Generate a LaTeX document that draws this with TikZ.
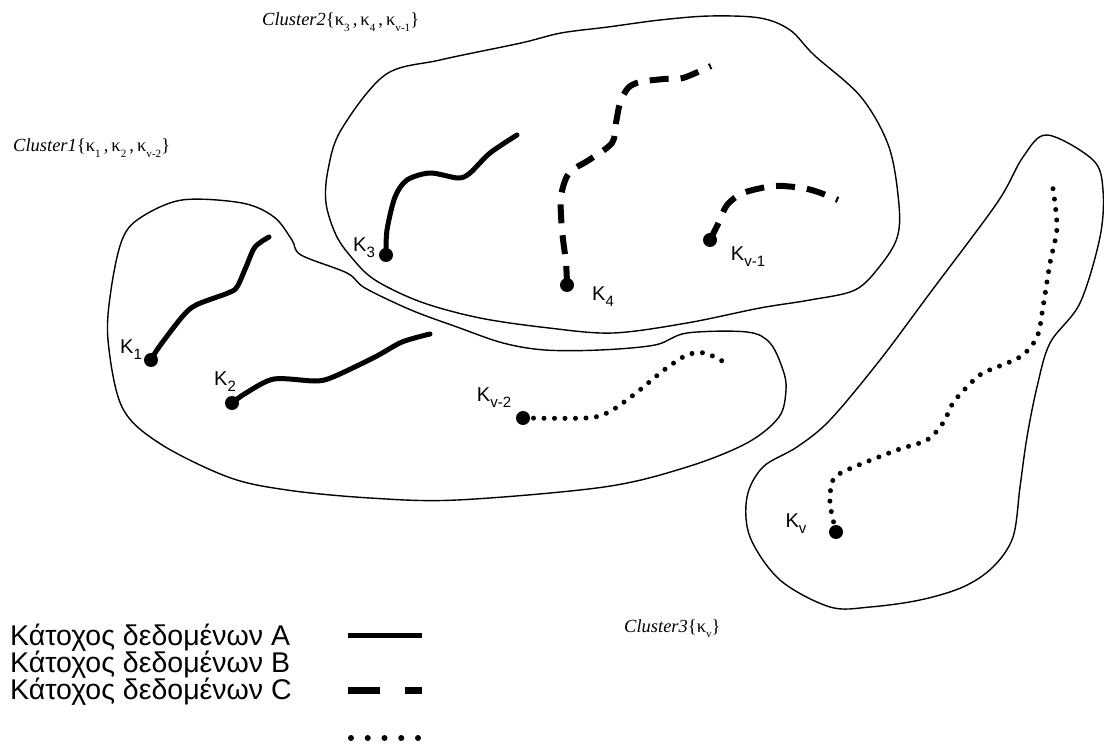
\documentclass[tikz,border=0pt]{standalone}
\usepackage{fontspec}
\setmainfont{Liberation Sans}
\newfontfamily\clusterfont{Liberation Serif}
% lowered, smaller index used after the site letters
\newcommand\lowidx[2][0.75]{\raisebox{-0.3em}{\scalebox{#1}{#2}}}
\begin{document}
\begin{tikzpicture}[x=1pt,y=-1pt,
  outline/.style={line width=1.4pt, line join=round},
  holderA/.style={line width=5pt, line cap=round, line join=round},
  holderB/.style={line width=6pt, dash pattern=on 19pt off 12pt, line join=round},
  holderC/.style={line width=5pt, line cap=round, dash pattern=on 0pt off 10.5pt},
  site/.style={circle, fill=black, inner sep=0pt, minimum size=14pt},
  sitelabel/.style={font=\fontsize{20}{20}\selectfont, inner sep=0pt},
  clusterlabel/.style={font=\clusterfont\fontsize{18.5}{18.5}\selectfont, inner sep=0pt, anchor=base west},
  legendtext/.style={font=\fontsize{28.5}{28.5}\selectfont, inner sep=0pt, anchor=base west}
]
\useasboundingbox (0,0) rectangle (1104,749);

% cluster outlines
\draw[outline] plot[smooth cycle, tension=0.55] coordinates {
  (385,75) (440,60) (521,43) (561,33) (608,27) (660,20) (710,16) (760,18)
  (790,30) (814,55) (861,97) (889,147) (899,205) (897,238) (880,266) (855,290)
  (810,300) (760,308) (687,323) (613,333) (549,328) (480,318) (421,302)
  (375,280) (352,258) (336,235) (326,203) (328,170) (341,130)};
\draw[outline] plot[smooth cycle, tension=0.55] coordinates {
  (182,200) (242,203) (274,217) (292,240) (301,255) (347,273) (365,288)
  (411,310) (457,327) (503,343) (545,350) (600,350) (655,345) (687,333)
  (747,332) (770,343) (783,370) (786,390) (779,417) (747,443) (687,467)
  (604,487) (457,500) (370,498) (287,490) (228,477) (159,443) (122,407)
  (108,340) (111,290) (122,240) (140,218)};
\draw[outline] plot[smooth cycle, tension=0.55] coordinates {
  (1047,135) (1093,160) (1103,190) (1100,237) (1080,303) (1050,343)
  (1037,387) (1027,437) (1020,487) (1013,537) (993,567) (963,587) (920,600)
  (870,607) (830,607) (780,580) (750,537) (747,497) (763,467) (797,447)
  (830,420) (880,360) (930,293) (997,203) (1023,157)};

% sites
\node[site] (k1)  at (151,360) {};
\node[site] (k2)  at (232,403) {};
\node[site] (k3)  at (386,255) {};
\node[site] (k4)  at (567,285) {};
\node[site] (kv1) at (710,240) {};
\node[site] (kv2) at (523,418) {};
\node[site] (kv)  at (836,532) {};

% free ends of the traces
\coordinate (e1)  at (269,237);
\coordinate (e2)  at (430,334);
\coordinate (e3)  at (517,135);
\coordinate (e4)  at (711,66);
\coordinate (ev1) at (838,200);
\coordinate (ev2) at (724,362);
\coordinate (ev)  at (1052,182);

% traces of data holder A (solid)
\draw[holderA] plot[smooth] coordinates {(k1) (159,347) (182,317) (196,305)
  (228,293) (237,287) (246,267) (255,247) (e1)};
\draw[holderA] plot[smooth] coordinates {(k2) (246,393) (274,379) (315,381)
  (333,377) (375,357) (402,342) (e2)};
\draw[holderA] plot[smooth] coordinates {(k3) (387,230) (395,197) (407,180)
  (430,173) (458,178) (470,173) (490,153) (e3)};

% traces of data holder B (dashed)
\draw[holderB] plot[smooth] coordinates {(k4) (566,263) (562,230) (561,197)
  (569,173) (589,160) (612,143) (616,123) (620,103) (628,88) (640,82)
  (664,79) (683,78) (e4)};
\draw[holderB] plot[smooth] coordinates {(kv1) (719,222) (727,205) (743,193)
  (774,186) (802,188) (818,192) (ev1)};

% traces of data holder C (dotted)
\draw[holderC] plot[smooth] coordinates {(kv2) (586,418) (609,412) (636,393)
  (664,370) (687,355) (705,353) (ev2)};
\draw[holderC] plot[smooth] coordinates {(kv) (830,503) (833,480) (847,470)
  (897,450) (927,440) (943,423) (953,403) (967,387) (983,373) (1020,357)
  (1037,337) (1043,307) (1050,263) (1057,227) (ev)};

% site labels
\node[sitelabel] (l1)  at (131,350) {Κ\lowidx{1}};
\node[sitelabel] (l2)  at (225,382) {Κ\lowidx{2}};
\node[sitelabel] (l3)  at (364,248) {Κ\lowidx{3}};
\node[sitelabel] (l4)  at (603,297) {Κ\lowidx{4}};
\node[sitelabel] (lv1) at (748,257) {Κ\lowidx{v-1}};
\node[sitelabel] (lv2) at (494,398) {Κ\lowidx{v-2}};
\node[sitelabel] (lv)  at (796,524) {Κ\lowidx{v}};

% cluster captions
\node[clusterlabel] (c1) at (13,152)
  {\textit{Cluster1}\{κ\lowidx[0.6]{1}\,,\,κ\lowidx[0.6]{2}\,,\,κ\lowidx[0.6]{v-2}\}};
\node[clusterlabel] (c2) at (262,26)
  {\textit{Cluster2}\{κ\lowidx[0.6]{3}\,,\,κ\lowidx[0.6]{4}\,,\,κ\lowidx[0.6]{v-1}\}};
\node[clusterlabel] (c3) at (624,632)
  {\textit{Cluster3}\{κ\lowidx[0.6]{v}\}};

% legend
\node[legendtext] (t1) at (10,645) {Κάτοχος δεδομένων A};
\node[legendtext] (t2) at (10,672) {Κάτοχος δεδομένων B};
\node[legendtext] (t3) at (10,699) {Κάτοχος δεδομένων C};
\coordinate (a1) at (348,635);
\coordinate (a2) at (422,635);
\coordinate (b1) at (348,690);
\coordinate (b2) at (422,690);
\coordinate (d1) at (351,738);
\coordinate (d2) at (419,738);
\draw[line width=5pt] (a1) -- (a2);
\draw[line width=7pt, dash pattern=on 32pt off 25pt] (b1) -- (b2);
\draw[line width=6pt, line cap=round, dash pattern=on 0pt off 16.75pt] (d1) -- (d2);
\end{tikzpicture}
\end{document}
